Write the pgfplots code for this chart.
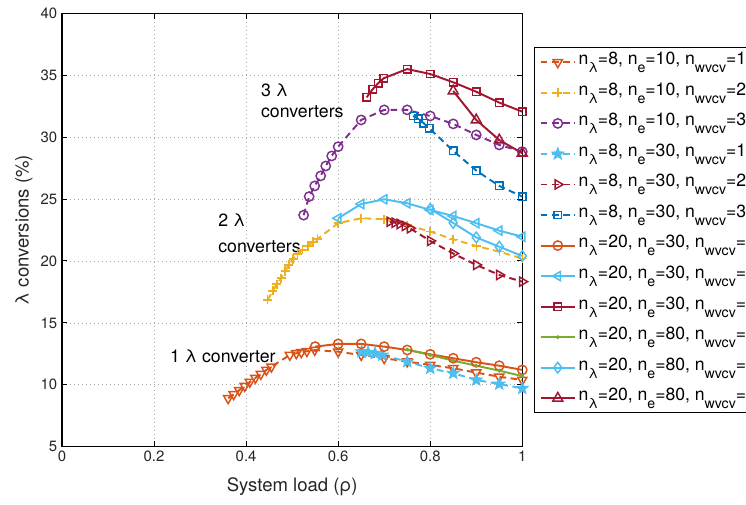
\documentclass[border=0pt]{standalone}
\usepackage{fontspec}
\setmainfont{TeX Gyre Heros}
\usepackage{pgfplots}
\pgfplotsset{compat=1.18}
\usetikzlibrary{plotmarks}
\definecolor{cA}{RGB}{217,83,25}
\definecolor{cB}{RGB}{237,177,32}
\definecolor{cC}{RGB}{126,47,142}
\definecolor{cD}{RGB}{77,190,238}
\definecolor{cE}{RGB}{162,20,47}
\definecolor{cF}{RGB}{0,114,189}
\definecolor{cG}{RGB}{119,172,48}
\pgfdeclareplotmark{pstar}{%
  \pgfpathmoveto{\pgfpointpolar{90}{\pgfplotmarksize}}%
  \pgfpathlineto{\pgfpointpolar{126}{0.42*\pgfplotmarksize}}%
  \pgfpathlineto{\pgfpointpolar{162}{\pgfplotmarksize}}%
  \pgfpathlineto{\pgfpointpolar{198}{0.42*\pgfplotmarksize}}%
  \pgfpathlineto{\pgfpointpolar{234}{\pgfplotmarksize}}%
  \pgfpathlineto{\pgfpointpolar{270}{0.42*\pgfplotmarksize}}%
  \pgfpathlineto{\pgfpointpolar{306}{\pgfplotmarksize}}%
  \pgfpathlineto{\pgfpointpolar{342}{0.42*\pgfplotmarksize}}%
  \pgfpathlineto{\pgfpointpolar{18}{\pgfplotmarksize}}%
  \pgfpathlineto{\pgfpointpolar{54}{0.42*\pgfplotmarksize}}%
  \pgfpathclose
  \pgfusepathqfillstroke
}
\newcommand\sub[1]{\raisebox{-6pt}{\fontsize{10.6}{11}\selectfont #1}}
\tikzset{mdash/.style={dash pattern=on 5pt off 3.3pt}, lw/.style={line width=1.45pt}}
\begin{document}
\begin{tikzpicture}
\begin{axis}[
  scale only axis, width=345.2pt, height=325pt,
  xmin=0, xmax=1, ymin=5, ymax=40,
  xtick={0,0.2,0.4,0.6,0.8,1}, xticklabels={0,0.2,0.4,0.6,0.8,1},
  ytick={5,10,15,20,25,30,35,40},
  tick align=inside, major tick length=4pt,
  grid=major, grid style={black!35, dash pattern=on 0.6pt off 2.4pt, line width=0.5pt},
  axis line style={line width=0.9pt, black},
  tick style={black, line width=0.7pt},
  ticklabel style={font=\fontsize{11.2}{13}\selectfont, text=black!85},
  /pgf/number format/assume math mode=true,
  xlabel={System load (ρ)}, ylabel={λ conversions (\%)},
  label style={font=\fontsize{13.9}{16}\selectfont, text=black!85},
  xlabel style={at={(axis description cs:0.5,-0.093)}, anchor=center},
  ylabel style={at={(axis description cs:-0.083,0.5)}, anchor=center},
  clip=false,
  legend style={at={(axis description cs:1.0254,0.9218)}, anchor=north west,
    draw=black, line width=0.7pt, font=\fontsize{13.2}{15}\selectfont,
    inner xsep=4pt, inner ysep=3pt, row sep=6.9pt,
    nodes={text height=9.8pt, text depth=6.2pt, inner ysep=0pt, text=black}},
  legend cell align=left,
  legend image code/.code={\draw[line width=1.45pt, mark repeat=2,mark phase=2] plot coordinates {(0cm,0cm) (0.45cm,0cm) (0.9cm,0cm)};},
]
% 1
\addplot[cA, lw, mdash, mark=triangle, mark size=4pt, mark options={solid, rotate=180, line width=1.1pt}] coordinates {
(0.361,8.91)(0.373,9.23)(0.385,9.56)(0.397,9.90)(0.408,10.23)(0.420,10.55)(0.432,10.87)(0.444,11.20)(0.455,11.46)
(0.495,12.41)(0.509,12.54)(0.520,12.62)(0.532,12.71)(0.549,12.81)(0.600,12.67)(0.650,12.40)(0.700,12.14)
(0.750,11.87)(0.800,11.60)(0.850,11.33)(0.900,10.98)(0.950,10.65)(1.000,10.39)};
\addlegendentry{n\sub{λ}=8, n\sub{e}=10, n\sub{wvcv}=1}
% 2
\addplot[cB, lw, mdash, mark=+, mark size=3.4pt, mark options={solid, line width=1.1pt}] coordinates {
(0.447,16.85)(0.458,17.58)(0.467,18.13)(0.476,18.62)(0.485,19.19)(0.493,19.68)(0.502,20.16)(0.512,20.56)
(0.523,20.89)(0.534,21.21)(0.545,21.53)(0.555,21.78)(0.600,23.05)(0.650,23.45)(0.700,23.37)(0.750,22.90)
(0.800,22.37)(0.850,21.75)(0.900,21.21)(0.950,20.75)(1.000,20.20)};
\addlegendentry{n\sub{λ}=8, n\sub{e}=10, n\sub{wvcv}=2}
% 3
\addplot[cC, lw, mdash, mark=o, mark size=3.5pt, mark options={solid, line width=1.1pt}] coordinates {
(0.525,23.70)(0.537,25.20)(0.549,26.06)(0.562,26.87)(0.573,27.67)(0.586,28.48)(0.600,29.23)(0.650,31.39)
(0.700,32.20)(0.750,32.20)(0.800,31.71)(0.850,31.07)(0.900,30.18)(0.950,29.37)(1.000,28.83)};
\addlegendentry{n\sub{λ}=8, n\sub{e}=10, n\sub{wvcv}=3}
% 4
\addplot[cD, lw, mdash, mark=pstar, mark size=4.5pt, mark options={solid, fill=cD, line width=0.8pt}] coordinates {
(0.651,12.67)(0.665,12.62)(0.680,12.54)(0.696,12.40)(0.750,11.87)(0.800,11.33)(0.850,10.93)(0.900,10.39)
(0.950,10.06)(1.000,9.71)};
\addlegendentry{n\sub{λ}=8, n\sub{e}=30, n\sub{wvcv}=1}
% 5
\addplot[cE, lw, mdash, mark=triangle, mark size=4pt, mark options={solid, rotate=-90, line width=1.1pt}] coordinates {
(0.712,23.17)(0.723,23.09)(0.734,22.99)(0.745,22.83)(0.756,22.64)(0.800,21.62)(0.850,20.60)(0.900,19.68)
(0.950,18.87)(1.000,18.33)};
\addlegendentry{n\sub{λ}=8, n\sub{e}=30, n\sub{wvcv}=2}
% 6
\addplot[cF, lw, mdash, mark=square, mark size=2.8pt, mark options={solid, line width=1.1pt}] coordinates {
(0.763,31.71)(0.774,31.47)(0.786,31.12)(0.798,30.72)(0.850,28.89)(0.900,27.30)(0.950,26.06)(1.000,25.20)};
\addlegendentry{n\sub{λ}=8, n\sub{e}=30, n\sub{wvcv}=3}
% 7
\addplot[cA, lw, solid, mark=o, mark size=3.5pt, mark options={solid, line width=1.1pt}] coordinates {
(0.550,13.08)(0.600,13.30)(0.650,13.30)(0.700,13.08)(0.750,12.81)(0.800,12.46)(0.850,12.14)(0.900,11.82)
(0.950,11.54)(1.000,11.20)};
\addlegendentry{n\sub{λ}=20, n\sub{e}=30, n\sub{wvcv}=1}
% 8
\addplot[cD, lw, solid, mark=triangle, mark size=4pt, mark options={solid, rotate=90, line width=1.1pt}] coordinates {
(0.600,23.45)(0.650,24.60)(0.700,24.98)(0.750,24.66)(0.800,24.12)(0.850,23.63)(0.900,23.05)(0.950,22.45)(1.000,21.96)};
\addlegendentry{n\sub{λ}=20, n\sub{e}=30, n\sub{wvcv}=2}
% 9
\addplot[cE, lw, solid, mark=square, mark size=2.8pt, mark options={solid, line width=1.1pt}] coordinates {
(0.662,33.22)(0.675,33.87)(0.687,34.35)(0.699,34.76)(0.750,35.50)(0.800,35.10)(0.850,34.43)(0.900,33.67)
(0.950,32.79)(1.000,32.06)};
\addlegendentry{n\sub{λ}=20, n\sub{e}=30, n\sub{wvcv}=3}
% 10
\addplot[cG, lw, solid, mark=*, mark size=0.6pt] coordinates {
(0.750,12.85)(0.800,12.40)(0.850,11.95)(0.900,11.54)(0.950,11.14)(1.000,10.70)};
\addlegendentry{n\sub{λ}=20, n\sub{e}=80, n\sub{wvcv}=1}
% 11
\addplot[cD, lw, solid, mark=diamond, mark size=4pt, mark options={solid, line width=1.1pt}] coordinates {
(0.800,24.20)(0.850,23.07)(0.900,21.90)(0.950,21.15)(1.000,20.40)};
\addlegendentry{n\sub{λ}=20, n\sub{e}=80, n\sub{wvcv}=2}
% 12
\addplot[cE, lw, solid, mark=triangle, mark size=4.3pt, mark options={solid, line width=1.1pt}] coordinates {
(0.850,33.73)(0.900,31.39)(0.950,29.77)(1.000,28.70)};
\addlegendentry{n\sub{λ}=20, n\sub{e}=80, n\sub{wvcv}=3}
\node[anchor=base west, inner sep=0pt, font=\fontsize{13.3}{15}\selectfont] at (axis cs:0.432,33.27) {3 λ};
\node[anchor=base west, inner sep=0pt, font=\fontsize{13.3}{15}\selectfont] at (axis cs:0.432,31.55) {converters};
\node[anchor=base west, inner sep=0pt, font=\fontsize{13.3}{15}\selectfont] at (axis cs:0.339,22.75) {2 λ};
\node[anchor=base west, inner sep=0pt, font=\fontsize{13.3}{15}\selectfont] at (axis cs:0.339,20.65) {converters};
\node[anchor=base west, inner sep=0pt, font=\fontsize{13.3}{15}\selectfont] at (axis cs:0.2345,11.76) {1 λ converter};
\end{axis}
\pgfresetboundingbox
\useasboundingbox (-46.5pt,-43pt) rectangle (513pt,335pt);
\end{tikzpicture}
\end{document}
